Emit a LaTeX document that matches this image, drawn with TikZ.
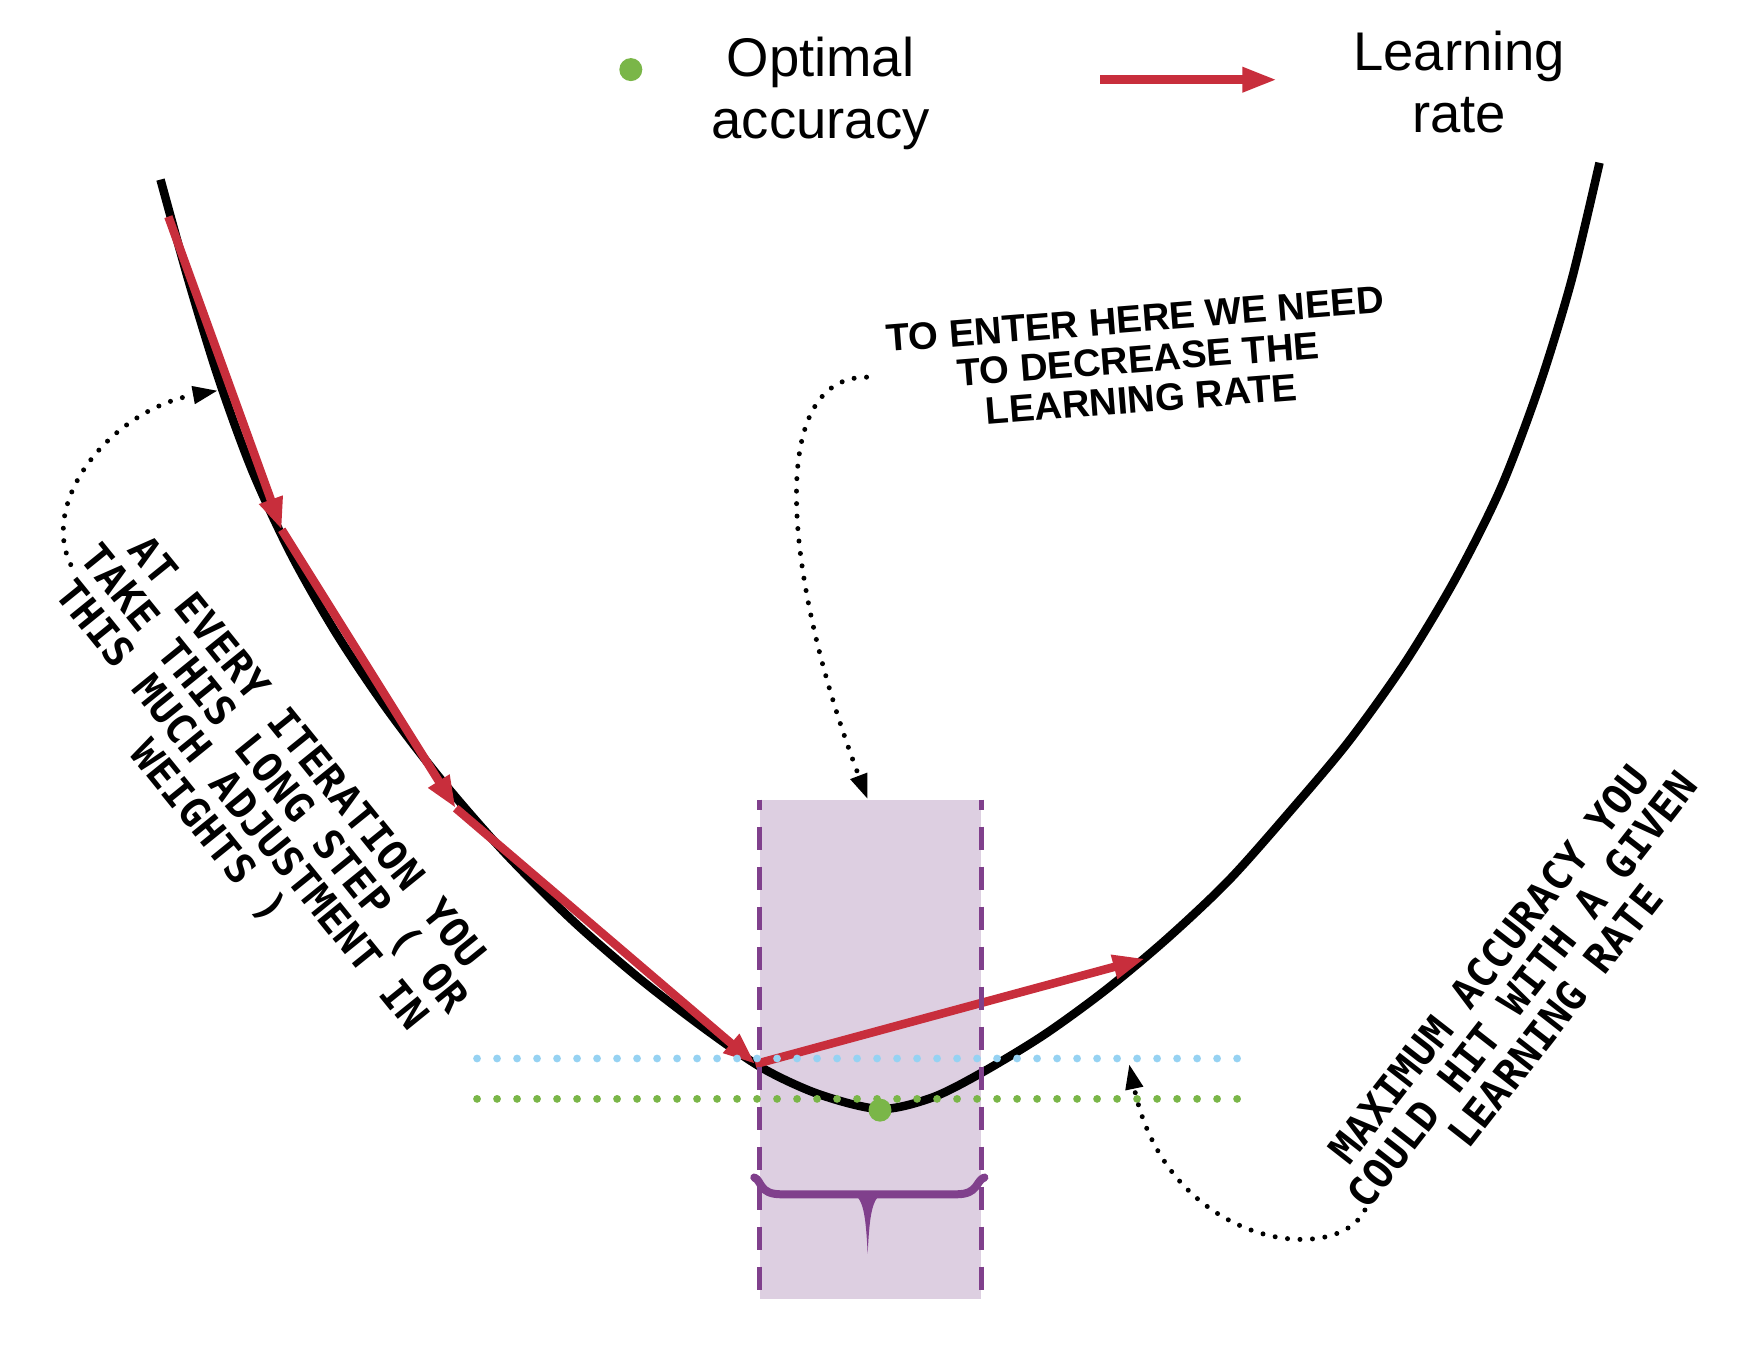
\documentclass[tikz,border=0pt]{standalone}
\usepackage{fontspec}
\setmainfont{Liberation Sans}
\newfontfamily\handmono{DejaVu Sans Mono}
\usetikzlibrary{arrows.meta}
\definecolor{stepred}{RGB}{200,46,60}
\definecolor{optgreen}{RGB}{122,182,72}
\definecolor{lrblue}{RGB}{150,210,242}
\definecolor{boxfill}{RGB}{221,207,225}
\definecolor{boxline}{RGB}{128,64,140}
\begin{document}
\begin{tikzpicture}[x=0.11224mm,y=-0.11224mm,
  lossline/.style={line width=0.85mm,black},
  stepline/.style={draw=stepred,line width=0.85mm,-{Triangle[length=3.2mm,width=2.3mm]}},
  legendarrow/.style={draw=stepred,line width=0.95mm,-{Triangle[length=3.5mm,width=2.3mm]}},
  annot/.style={black,line width=0.5mm,line cap=round,dash pattern=on 0pt off 1.25mm,-{Triangle[length=2.5mm,width=1.7mm]}},
  bluedots/.style={lrblue,line width=0.78mm,line cap=round,dash pattern=on 0pt off 2mm},
  greendots/.style={optgreen,line width=0.78mm,line cap=round,dash pattern=on 0pt off 2mm},
  boxdash/.style={boxline,line width=0.46mm,dash pattern=on 2.3mm off 1.7mm,dash phase=1.3mm},
  legendtext/.style={font=\fontsize{15.5}{17.6}\selectfont,align=center,inner sep=0pt},
  handnote/.style={font=\handmono\bfseries\fontsize{11.6}{12}\selectfont,align=center,inner sep=0pt},
  topnote/.style={font=\bfseries\fontsize{10.9}{11.4}\selectfont,align=center,inner sep=0pt},
  dot/.style={circle,fill=optgreen,inner sep=0pt,minimum size=2.3mm}
]
\useasboundingbox (0,0) rectangle (1568,1212);
\fill[white] (0,0) rectangle (1568,1212);

% shaded zone
\node[fill=boxfill,inner sep=0pt,minimum width=22.11mm,minimum height=49.83mm] (zone) at (775.5,935) {};

% loss curve
\draw[lossline] plot[smooth,tension=0.5] coordinates {
 (143,160) (168,250) (195,338) (225,420) (260,495) (300,565) (345,632)
 (395,697) (450,760) (510,820) (570,872) (630,918) (680,952) (730,975)
 (784,988) (830,978) (874,956) (930,922) (985,882) (1040,836) (1095,784)
 (1150,722) (1202,660) (1252,590) (1297,515) (1337,435) (1371,345)
 (1400,250) (1425,145)};

% learning-rate steps
\coordinate (s0) at (150,193);
\coordinate (s1) at (251,472);
\coordinate (s2) at (406,720);
\coordinate (s3) at (673,948);
\coordinate (s4) at (1020,854);
\draw[stepline] (s0) -- (s1);
\draw[stepline] (s1) -- (s2);
\draw[stepline] (s2) -- (s3);
\draw[stepline] (s3) -- (s4);

% zone edges
\draw[boxdash] (zone.north west) -- (zone.south west);
\draw[boxdash] (zone.north east) -- (zone.south east);

% dotted levels
\coordinate (bl0) at (425,943); \coordinate (bl1) at (1108,943);
\coordinate (gl0) at (425,979); \coordinate (gl1) at (1108,979);
\draw[bluedots] (bl0) -- (bl1);
\draw[greendots] (gl0) -- (gl1);

% optimum
\node[dot] (opt) at (784,989) {};

% brace
\draw[boxline,line width=0.8mm,line cap=round] (672,1049) .. controls (679,1052) and (676,1064) .. (696,1064) -- (852,1064) .. controls (872,1064) and (869,1052) .. (877,1049);
\fill[boxline] (755,1062) .. controls (768,1064) and (771,1075) .. (773,1117) .. controls (775,1075) and (778,1064) .. (791,1062) -- cycle;

% legend
\node[dot] (legdot) at (562,62) {};
\node[legendtext] (legopt) at (731,83) {Optimal\\accuracy};
\coordinate (la0) at (980,71);
\coordinate (la1) at (1138,71);
\draw[legendarrow] (la0) -- (la1);
\node[legendtext] (leglr) at (1300,73) {Learning\\rate};

% annotations
\node[topnote,rotate=4.5] (note1) at (1014,320) {TO ENTER HERE WE NEED\\TO DECREASE THE\\LEARNING RATE};
\node[handnote,rotate=-51] (note2) at (229,706) {AT EVERY ITERATION YOU\\TAKE THIS LONG STEP ( OR\\THIS MUCH ADJUSTMENT IN\\WEIGHTS )};
\node[handnote,rotate=52] (note3) at (1356,882) {MAXIMUM ACCURACY YOU\\COULD HIT WITH A GIVEN\\LEARNING RATE};

\coordinate (a1s) at (772,336);
\coordinate (a1e) at (773,712);
\draw[annot] (a1s) .. controls (680,336) and (700,520) .. (a1e);
\coordinate (a2s) at (63,503);
\coordinate (a2e) at (194,348);
\draw[annot] (a2s) .. controls (35,445) and (100,365) .. (a2e);
\coordinate (a3s) at (1216,1078);
\coordinate (a3e) at (1006,948);
\draw[annot] (a3s) .. controls (1190,1130) and (1040,1110) .. (a3e);
\end{tikzpicture}
\end{document}
